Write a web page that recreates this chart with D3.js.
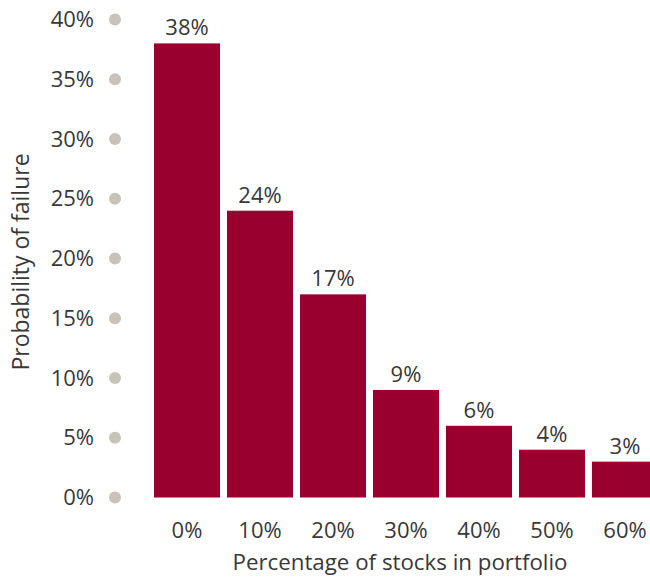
<!DOCTYPE html>
<html>
<head>
<meta charset="utf-8">
<script src="https://cdn.jsdelivr.net/npm/d3@7"></script>
<style>
  body { margin: 0; background: #fff; }
  text { font-family: "Open Sans", "Noto Sans", sans-serif; fill: #383838; }
</style>
</head>
<body>
<svg id="chart" width="650" height="577"></svg>
<script>
// data
var categories = ["0%", "10%", "20%", "30%", "40%", "50%", "60%"];
var failure = [38, 24, 17, 9, 6, 4, 3];
var yTicks = [0, 5, 10, 15, 20, 25, 30, 35, 40];

var svg = d3.select("#chart");
var barColor = "#990030";
var fs = 22;

var x = d3.scaleBand()
  .domain(categories)
  .range([154, 658])
  .paddingInner(7 / 73)
  .paddingOuter(0);

var y = d3.scaleLinear()
  .domain([0, 40])
  .range([497.5, 19.5]);

// y ticks: label + grey dot
var tick = svg.append("g").attr("class", "y-ticks")
  .selectAll("g")
  .data(yTicks)
  .enter().append("g")
  .attr("transform", function(d) { return "translate(0," + y(d) + ")"; });

tick.append("circle")
  .attr("cx", 115)
  .attr("r", 6)
  .attr("fill", "#c9c2b8");

tick.append("text")
  .attr("x", 94)
  .attr("dy", "0.35em")
  .attr("text-anchor", "end")
  .attr("font-size", fs)
  .text(function(d) { return d + "%"; });

// bars
svg.append("g").attr("class", "bars")
  .selectAll("rect")
  .data(failure)
  .enter().append("rect")
  .attr("x", function(d, i) { return x(categories[i]); })
  .attr("y", function(d) { return y(d); })
  .attr("width", x.bandwidth())
  .attr("height", function(d) { return y(0) - y(d); })
  .attr("fill", barColor);

// value labels
svg.append("g").attr("class", "values")
  .selectAll("text")
  .data(failure)
  .enter().append("text")
  .attr("x", function(d, i) { return x(categories[i]) + x.bandwidth() / 2; })
  .attr("y", function(d) { return y(d) - 8; })
  .attr("text-anchor", "middle")
  .attr("font-size", fs)
  .text(function(d) { return d + "%"; });

// x labels
svg.append("g").attr("class", "x-labels")
  .selectAll("text")
  .data(categories)
  .enter().append("text")
  .attr("x", function(d) { return x(d) + x.bandwidth() / 2; })
  .attr("y", 538)
  .attr("text-anchor", "middle")
  .attr("font-size", fs)
  .text(function(d) { return d; });

// axis titles
svg.append("text")
  .attr("x", 400)
  .attr("y", 570)
  .attr("text-anchor", "middle")
  .attr("font-size", 22.3)
  .text("Percentage of stocks in portfolio");

svg.append("text")
  .attr("transform", "translate(29," + 262 + ") rotate(-90)")
  .attr("text-anchor", "middle")
  .attr("font-size", 23)
  .text("Probability of failure");
</script>
</body>
</html>
